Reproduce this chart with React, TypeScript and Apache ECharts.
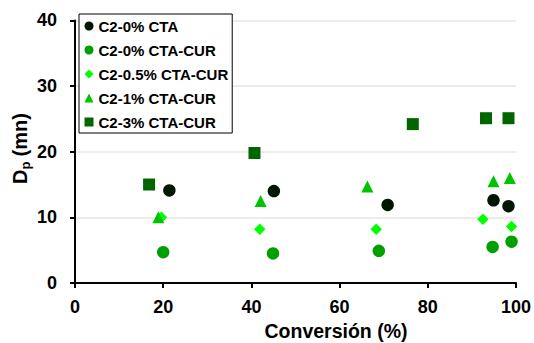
import React, { useEffect, useRef } from "react";
import * as echarts from "echarts";

const seriesNames = ["C2-0% CTA", "C2-0% CTA-CUR", "C2-0.5% CTA-CUR", "C2-1% CTA-CUR", "C2-3% CTA-CUR"];

const conv0CTA = [21.4, 45.1, 70.9, 94.9, 98.3];
const dp0CTA = [14.1, 14.0, 11.9, 12.6, 11.7];
const conv0CUR = [20.0, 44.9, 68.9, 94.7, 99.0];
const dp0CUR = [4.7, 4.5, 4.9, 5.5, 6.3];
const conv05CUR = [19.6, 41.9, 68.3, 92.5, 99.0];
const dp05CUR = [10.0, 8.2, 8.2, 9.7, 8.6];
const conv1CUR = [18.9, 42.1, 66.3, 94.9, 98.6];
const dp1CUR = [10.0, 12.5, 14.7, 15.5, 16.0];
const conv3CUR = [16.8, 40.7, 76.6, 93.2, 98.3];
const dp3CUR = [15.0, 19.8, 24.2, 25.1, 25.1];

const xTicks = [0, 20, 40, 60, 80, 100];
const yTicks = [0, 10, 20, 30, 40];

const FONT = "'Liberation Sans', Arial, sans-serif";

function pairs(xs: number[], ys: number[]) {
  return xs.map((x, i) => [x, ys[i]]);
}

export default function App() {
  const ref = useRef<HTMLDivElement>(null);
  useEffect(() => {
    if (!ref.current) return;
    const chart = echarts.init(ref.current, null, { renderer: "svg" });
    const styles = [
      { symbol: "circle", size: 12.5, color: "#001600" },
      { symbol: "circle", size: 12.5, color: "#00a000" },
      { symbol: "diamond", size: 11.5, color: "#00ff00" },
      { symbol: "triangle", size: 12, color: "#00c400" },
      { symbol: "rect", size: 12, color: "#006600" },
    ];
    const data = [
      pairs(conv0CTA, dp0CTA),
      pairs(conv0CUR, dp0CUR),
      pairs(conv05CUR, dp05CUR),
      pairs(conv1CUR, dp1CUR),
      pairs(conv3CUR, dp3CUR),
    ];
    chart.setOption({
      animation: false,
      backgroundColor: "#ffffff",
      grid: { left: 75, right: 17, top: 20.4, bottom: 60 },
      xAxis: {
        type: "value",
        min: xTicks[0],
        max: xTicks[xTicks.length - 1],
        interval: 20,
        axisLine: { show: true, lineStyle: { color: "#000", width: 2 } },
        axisTick: { show: true, length: 5, lineStyle: { color: "#000", width: 2 } },
        axisLabel: { margin: 15, fontFamily: FONT, fontWeight: "bold", fontSize: 18, color: "#000" },
        splitLine: { show: false },
      },
      yAxis: {
        type: "value",
        min: yTicks[0],
        max: yTicks[yTicks.length - 1],
        interval: 10,
        axisLine: { show: true, lineStyle: { color: "#000", width: 2 } },
        axisTick: { show: true, length: 5, lineStyle: { color: "#000", width: 2 } },
        axisLabel: { margin: 18, fontFamily: FONT, fontWeight: "bold", fontSize: 18, color: "#000" },
        splitLine: { show: true, lineStyle: { color: "#ececec", width: 2 } },
      },
      legend: {
        orient: "vertical",
        left: 79,
        top: 14,
        padding: [3, 4, 2, 5.5],
        itemGap: 6,
        itemWidth: 9,
        itemHeight: 9,
        itemStyle: { borderWidth: 0 },
        borderColor: "#000",
        borderWidth: 1,
        backgroundColor: "#fff",
        textStyle: { fontFamily: FONT, fontWeight: "bold", fontSize: 15, color: "#000", lineHeight: 18 },
        data: seriesNames,
      },
      graphic: [
        {
          type: "text",
          x: 336,
          y: 331,
          style: {
            text: "Conversión (%)",
            font: `bold 19.5px ${FONT}`,
            fill: "#000",
            textAlign: "center",
            textVerticalAlign: "middle",
          },
        },
        {
          type: "group",
          x: 20,
          y: 148,
          rotation: Math.PI / 2,
          children: [
            {
              type: "text",
              x: -36,
              y: 0,
              style: { text: "D", font: `bold 20px ${FONT}`, fill: "#000", textAlign: "left", textVerticalAlign: "middle" },
            },
            {
              type: "text",
              x: -21.6,
              y: 5,
              style: { text: "p", font: `bold 13px ${FONT}`, fill: "#000", textAlign: "left", textVerticalAlign: "middle" },
            },
            {
              type: "text",
              x: -14,
              y: 0,
              style: { text: " (mn)", font: `bold 20px ${FONT}`, fill: "#000", textAlign: "left", textVerticalAlign: "middle" },
            },
          ],
        },
      ],
      series: seriesNames.map((name, i) => ({
        name,
        type: "scatter",
        symbol: styles[i].symbol,
        symbolSize: styles[i].size,
        itemStyle: { color: styles[i].color, opacity: 1 },
        data: data[i],
      })),
    });
    return () => chart.dispose();
  }, []);
  return <div ref={ref} style={{ position: "fixed", left: 0, top: 0, width: 534, height: 343 }} />;
}
